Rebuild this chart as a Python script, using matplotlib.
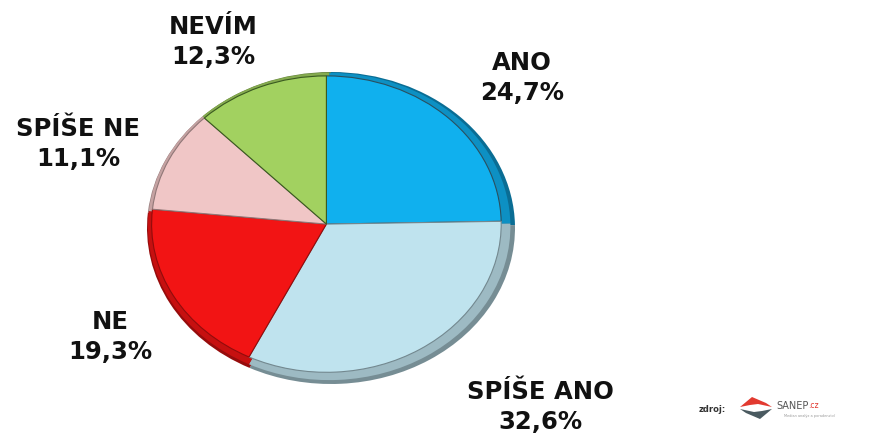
import matplotlib.pyplot as plt
from matplotlib.patches import Polygon
import matplotlib.colors as mcolors

# data
labels = ['ANO', 'SPÍŠE ANO', 'NE', 'SPÍŠE NE', 'NEVÍM']
values = [24.7, 32.6, 19.3, 11.1, 12.3]
value_texts = ['24,7%', '32,6%', '19,3%', '11,1%', '12,3%']
colors = ['#10b0ee', '#bfe3ee', '#f21414', '#f0c6c6', '#a2d160']

W, H = 873, 445
fig = plt.figure(figsize=(W / 100, H / 100), dpi=100)
fig.patch.set_facecolor('white')

# pie is a bit squashed (3D look), so axes with aspect auto
cx, cy, rx, ry = 331, 228, 184, 156
ax = fig.add_axes([(cx - rx) / W, (H - cy - ry) / H, 2 * rx / W, 2 * ry / H])


def shade(c, f):
    r, g, b = mcolors.to_rgb(c)
    return (r * f, g * f, b * f)


# darker rim underneath, then main wedges shifted a little up-left
ax.pie(values, colors=[shade(c, 0.62) for c in colors], startangle=90,
       counterclock=False, radius=1.0, wedgeprops=dict(linewidth=0))
ax.pie(values, colors=[shade(c, 0.82) for c in colors], startangle=90,
       counterclock=False, radius=0.985, center=(-0.01, 0.01),
       wedgeprops=dict(linewidth=0))
wedges, _ = ax.pie(values, colors=colors, startangle=90, counterclock=False,
                   radius=0.95, center=(-0.025, 0.025),
                   wedgeprops=dict(linewidth=0.8))
for w, c in zip(wedges, colors):
    w.set_edgecolor(shade(c, 0.6))
wedges[0].set_edgecolor('#2a5060')
wedges[4].set_edgecolor('#3a5a20')
ax.set_xlim(-1, 1)
ax.set_ylim(-1, 1)
ax.set_aspect('auto')
ax.axis('off')

# labels (pixel positions from the reference)
label_pos = {
    'ANO': (522, 78),
    'SPÍŠE ANO': (540, 407),
    'NE': (110, 337),
    'SPÍŠE NE': (78, 144),
    'NEVÍM': (213, 42),
}
for lab, vt in zip(labels, value_texts):
    px, py = label_pos[lab]
    fig.text(px / W, 1 - py / H, lab + '\n' + vt, ha='center', va='center',
             fontsize=17.5, fontweight='bold', color='#111111',
             family='DejaVu Sans', linespacing=1.3)

# source logo
fig.text(712 / W, 1 - 409 / H, 'zdroj:', ha='center', va='center',
         fontsize=6, fontweight='bold', color='#333333')
lx, ly = 756, 408
red = Polygon([((lx - 16) / W, 1 - (ly - 1) / H), ((lx - 4) / W, 1 - (ly - 11) / H),
               ((lx + 10) / W, 1 - (ly - 5) / H), ((lx + 16) / W, 1 - (ly - 1) / H),
               ((lx + 2) / W, 1 - (ly - 4) / H), ((lx - 6) / W, 1 - (ly - 3) / H)],
              closed=True, transform=fig.transFigure, facecolor='#e23a30',
              edgecolor='none')
grey = Polygon([((lx - 16) / W, 1 - (ly + 1) / H), ((lx - 2) / W, 1 - (ly + 4) / H),
                ((lx + 6) / W, 1 - (ly + 3) / H), ((lx + 16) / W, 1 - (ly + 1) / H),
                ((lx + 4) / W, 1 - (ly + 11) / H), ((lx - 10) / W, 1 - (ly + 5) / H)],
               closed=True, transform=fig.transFigure, facecolor='#4a5a60',
               edgecolor='none')
fig.add_artist(red)
fig.add_artist(grey)
fig.text(776 / W, 1 - 406 / H, 'SANEP', ha='left', va='center',
         fontsize=7, color='#555555', family='DejaVu Sans')
fig.text(808 / W, 1 - 406 / H, '.cz', ha='left', va='center',
         fontsize=5.5, color='#e23a30')
fig.text(784 / W, 1 - 416 / H, 'Median analýz a poradenství', ha='left',
         va='center', fontsize=2.5, color='#999999')

fig.savefig('out.png', dpi=100, facecolor='white')
